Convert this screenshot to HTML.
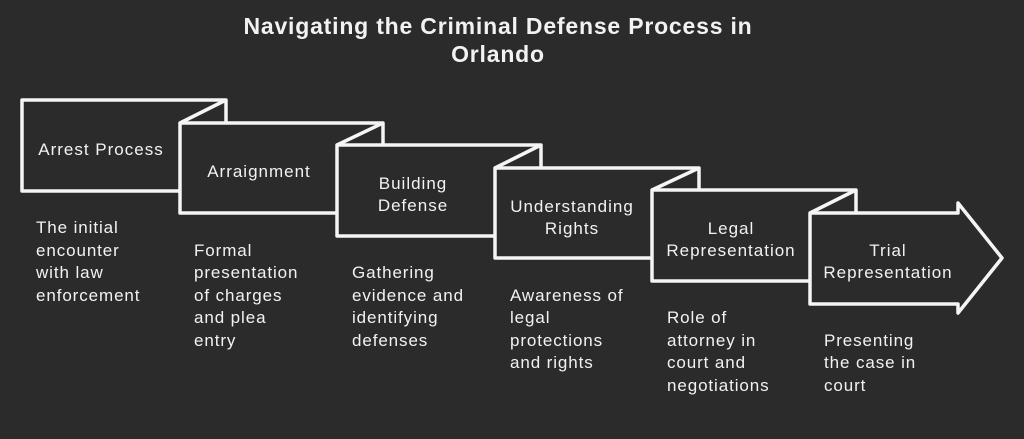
<!DOCTYPE html>
<html><head><meta charset="utf-8"><style>
html,body{margin:0;padding:0;background:#2b2b2b;}
svg{display:block}
text{font-family:"Liberation Sans",sans-serif;fill:#f2f2f2;}
</style></head><body>
<svg width="1024" height="439" viewBox="0 0 1024 439" xmlns="http://www.w3.org/2000/svg">
<rect width="1024" height="439" fill="#2b2b2b"/>
<text x="498" y="34" text-anchor="middle" font-size="23" font-weight="bold" letter-spacing="0.8">Navigating the Criminal Defense Process in</text>
<text x="498" y="62" text-anchor="middle" font-size="23" font-weight="bold" letter-spacing="0.8">Orlando</text>
<g fill="#2b2b2b" stroke="#f5f5f5" stroke-width="3.5" stroke-linejoin="round">
<rect x="22" y="100" width="204" height="91"/>
<line x1="180" y1="123" x2="226" y2="100"/>
<rect x="180" y="123" width="203" height="90"/>
<line x1="337" y1="145" x2="383" y2="123"/>
<rect x="337" y="145" width="204" height="91"/>
<line x1="495" y1="168" x2="541" y2="145"/>
<rect x="495" y="168" width="204" height="90"/>
<line x1="652" y1="190" x2="699" y2="168"/>
<rect x="652" y="190" width="204" height="91"/>
<line x1="810" y1="213" x2="856" y2="190"/>
<polygon points="810,213 958,213 958,203 1002,258 958,313 958,304 810,304"/>
</g>
<g font-size="17" text-anchor="middle" letter-spacing="1">
<text x="101" y="155">Arrest Process</text>
<text x="259" y="177">Arraignment</text>
<text x="413" y="189">Building</text><text x="413" y="211">Defense</text>
<text x="572" y="212">Understanding</text><text x="572" y="234">Rights</text>
<text x="731" y="234">Legal</text><text x="731" y="256">Representation</text>
<text x="888" y="256">Trial</text><text x="888" y="278">Representation</text>
</g>
<g font-size="17" letter-spacing="0.9">
<text x="36" y="233">The initial</text><text x="36" y="256">encounter</text><text x="36" y="278">with law</text><text x="36" y="301">enforcement</text>
<text x="194" y="256">Formal</text><text x="194" y="278">presentation</text><text x="194" y="301">of charges</text><text x="194" y="323">and plea</text><text x="194" y="346">entry</text>
<text x="352" y="278">Gathering</text><text x="352" y="301">evidence and</text><text x="352" y="323">identifying</text><text x="352" y="346">defenses</text>
<text x="510" y="301">Awareness of</text><text x="510" y="323">legal</text><text x="510" y="346">protections</text><text x="510" y="368">and rights</text>
<text x="667" y="323">Role of</text><text x="667" y="346">attorney in</text><text x="667" y="368">court and</text><text x="667" y="391">negotiations</text>
<text x="824" y="346">Presenting</text><text x="824" y="368">the case in</text><text x="824" y="391">court</text>
</g>
</svg>
</body></html>
